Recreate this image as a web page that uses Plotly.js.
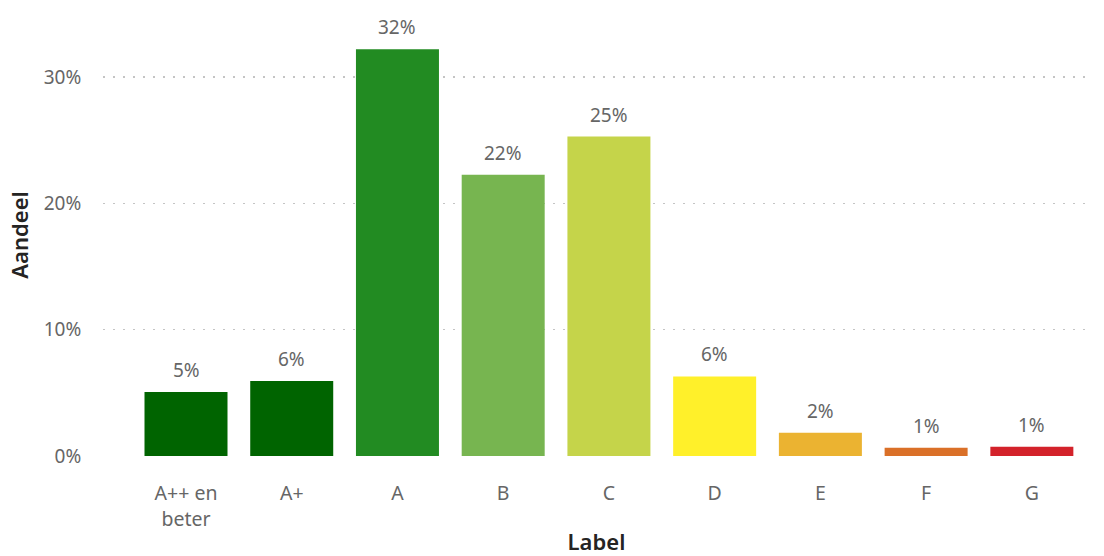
<!DOCTYPE html>
<html>
<head>
<meta charset="utf-8">
<script src="https://cdn.plot.ly/plotly-3.0.1.min.js"></script>
<style>html,body{margin:0;padding:0;background:#fff;}#chart{width:1104px;height:556px;}</style>
</head>
<body>
<div id="chart"></div>
<script>
const categories = ["A++ en<br>beter", "A+", "A", "B", "C", "D", "E", "F", "G"];
const shares = [0.0507, 0.0594, 0.3220, 0.2228, 0.2530, 0.0630, 0.0185, 0.0066, 0.0074];
const barLabels = ["5%", "6%", "32%", "22%", "25%", "6%", "2%", "1%", "1%"];
const barColors = ["#006400", "#006400", "#228B22", "#77B550", "#C5D44A", "#FFF02A", "#EBB331", "#DA7028", "#D3222A"];
const yTickVals = [0, 0.1, 0.2, 0.3];
const yTickText = ["0%", "10%", "20%", "30%"];

const font = '"Segoe UI", "Noto Sans", "Open Sans", sans-serif';

const trace = {
  type: 'bar',
  x: categories,
  y: shares,
  marker: {color: barColors},
  hoverinfo: 'skip'
};

const annotations = categories.map((c, i) => ({
  x: c, y: shares[i], xref: 'x', yref: 'y',
  text: barLabels[i], showarrow: false,
  yanchor: 'bottom', yshift: 7,
  font: {family: font, size: 19, color: '#666666'}
}));

const layout = {
  width: 1104, height: 556,
  margin: {l: 103, r: 14, t: 14, b: 100},
  paper_bgcolor: '#ffffff', plot_bgcolor: '#ffffff',
  bargap: 0.215,
  showlegend: false,
  font: {family: font, color: '#666666'},
  xaxis: {
    type: 'category',
    range: [-0.785, 8.55],
    showgrid: false, zeroline: false, showline: false,
    ticks: 'outside', ticklen: 20, tickcolor: 'rgba(0,0,0,0)',
    tickfont: {family: font, size: 19.5, color: '#666666'},
    title: {text: 'Label', font: {family: font, size: 22, color: '#252423', weight: 600}, standoff: 8}
  },
  yaxis: {
    range: [0, 0.35],
    tickvals: yTickVals, ticktext: yTickText,
    showgrid: true, gridcolor: '#c4c4c4', griddash: '2px,8px', gridwidth: 1.5,
    zeroline: false, showline: false,
    ticks: 'outside', ticklen: 17, tickcolor: 'rgba(0,0,0,0)',
    tickfont: {family: font, size: 19, color: '#666666'},
    title: {text: 'Aandeel', font: {family: font, size: 22, color: '#252423', weight: 600}, standoff: 8}
  },
  annotations: annotations
};

Plotly.newPlot('chart', [trace], layout, {displayModeBar: false, staticPlot: true});
</script>
</body>
</html>
